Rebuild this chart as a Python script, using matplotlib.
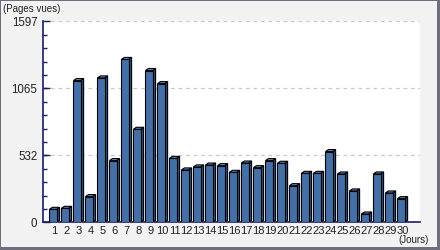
import matplotlib
matplotlib.use('Agg')
import matplotlib.pyplot as plt
from matplotlib.patches import Polygon, Rectangle

#data
days = list(range(1, 31))
views = [103, 111, 1126, 204, 1147, 490, 1294, 739, 1206, 1102,
         508, 416, 440, 455, 450, 397, 471, 434, 490, 469,
         291, 389, 389, 562, 384, 249, 66, 384, 233, 188]
y_ticks = [0, 532, 1065, 1597]
y_max = 1597

#colours
front_col = '#4270a8'
side_col = '#2b4c78'
top_col = '#6a93c6'
axis_col = '#1c1c6a'
frame_col = '#6e6e7e'

plt.rcParams['font.family'] = ['Liberation Sans', 'DejaVu Sans']

fig = plt.figure(figsize=(4.4, 2.5), dpi=100, facecolor='#f2f2f2')
ax = fig.add_axes([43/440, 1 - 222.3/250, 377/440, 201/250])
ax.set_facecolor('white')

width = 0.6
dx = 0.25   #depth to the right (data units)
dy = 16     #depth upwards (data units)

for d, v in zip(days, views):
    x0, x1 = d - width/2, d + width/2
    #side face
    ax.add_patch(Polygon([(x1, 0), (x1 + dx, dy), (x1 + dx, v + dy), (x1, v)],
                         closed=True, facecolor=side_col, edgecolor='black', lw=0.8, zorder=3))
    #top face
    ax.add_patch(Polygon([(x0, v), (x0 + dx, v + dy), (x1 + dx, v + dy), (x1, v)],
                         closed=True, facecolor=top_col, edgecolor='black', lw=0.8, zorder=3))
    #front face
    ax.bar(d, v, width=width, color=front_col, edgecolor='black', lw=0.8, zorder=4)

ax.set_xlim(1 - 10/12, 1 + 367/12)
ax.set_ylim(0, y_max)

#grid lines at the major ticks
for t in y_ticks[1:]:
    ax.axhline(t, color='#c8c8c8', lw=0.9, ls=(0, (3, 3)), zorder=1)

ax.set_yticks(y_ticks)
ax.set_yticks([y_max * k / 15 for k in range(16)], minor=True)
ax.tick_params(axis='y', which='major', direction='in', length=5, width=1, color=axis_col,
               labelsize=8.3, pad=4, labelcolor='#222222')
ax.tick_params(axis='y', which='minor', direction='in', length=3, width=1, color=axis_col)
ax.set_xticks([d + 0.12 for d in days])
ax.set_xticklabels([str(d) for d in days])
ax.tick_params(axis='x', length=0, labelsize=8, pad=2.5, labelcolor='#222222')

for s in ['top', 'right']:
    ax.spines[s].set_visible(False)
ax.spines['left'].set_color(axis_col)
ax.spines['bottom'].set_color(axis_col)
ax.spines['left'].set_linewidth(1.2)
ax.spines['bottom'].set_linewidth(1.2)

fig.text(3/440, 1 - 9/250, '(Pages vues)', fontsize=7, va='center', ha='left', color='#222222')
fig.text(429/440, 1 - 240/250, '(Jours)', fontsize=7, va='center', ha='right', color='#222222')

#outer frame: thin on left/top, thicker on right/bottom
for x, y, w, h in [(0, 0, 1/440, 1), (0, 1 - 1/250, 1, 1/250),
                   (1 - 3/440, 0, 3/440, 1), (0, 0, 1, 3/250)]:
    fig.patches.append(Rectangle((x, y), w, h, transform=fig.transFigure,
                                 facecolor=frame_col, edgecolor='none'))

fig.savefig('out.png', dpi=100, facecolor=fig.get_facecolor())
